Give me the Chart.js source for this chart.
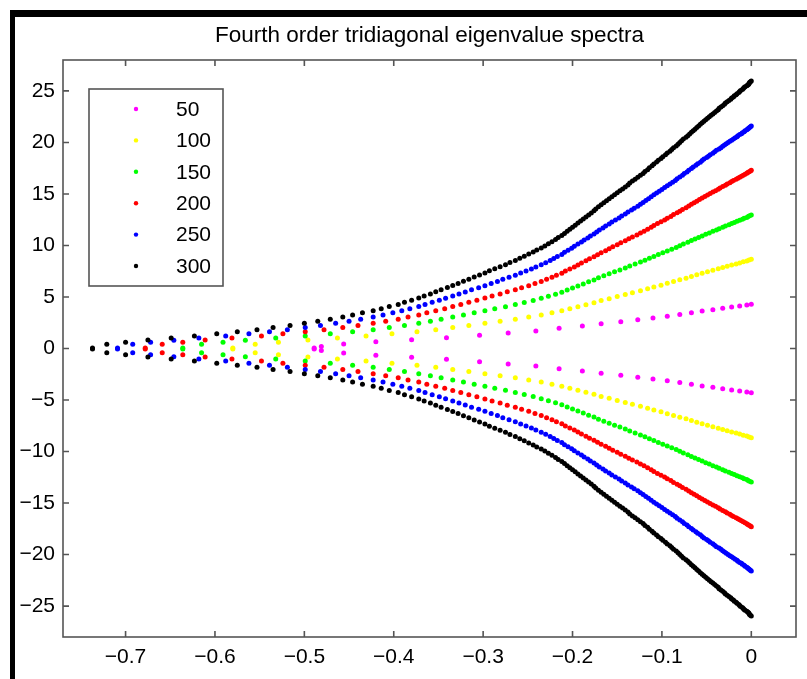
<!DOCTYPE html>
<html lang="pt-BR">
<head>
<meta charset="utf-8">
<title>Espectros de autovalores</title>
<script src="https://cdn.jsdelivr.net/npm/chart.js@4.4.1/dist/chart.umd.min.js"></script>
<style>
    html, body { margin: 0; padding: 0; background: #fff; }
    #grafico-container { position: relative; width: 807px; height: 679px; }
</style>
</head>
<body>
<div id="grafico-container"><canvas id="graficoEspectros"></canvas></div>
<script>
// Título e rótulos das séries (ordem da matriz)
const tituloGrafico = 'Fourth order tridiagonal eigenvalue spectra';
const rotulosSeries = ['50', '100', '150', '200', '250', '300'];
const coresSeries = ['#ff00ff', '#ffff00', '#00ff00', '#ff0000', '#0000ff', '#000000'];

// Valores dos ticks
const ticksX = [-0.7, -0.6, -0.5, -0.4, -0.3, -0.2, -0.1, 0];
const ticksY = [-25, -20, -15, -10, -5, 0, 5, 10, 15, 20, 25];

// Autovalores do semiplano superior (parte real / parte imaginária) para cada ordem
const real50 = [-0.489, -0.481, -0.456, -0.42, -0.38, -0.341, -0.304, -0.272, -0.241, -0.215, -0.189, -0.168, -0.146, -0.127, -0.11, -0.094, -0.08, -0.067, -0.055, -0.043, -0.032, -0.022, -0.013, -0.005, 0];
const imag50 = [0.05, 0.2, 0.44, 0.65, 0.86, 1.05, 1.28, 1.5, 1.7, 1.97, 2.18, 2.39, 2.6, 2.79, 2.97, 3.14, 3.31, 3.48, 3.63, 3.77, 3.91, 4.03, 4.13, 4.22, 4.3];

const real100 = [-0.58, -0.555, -0.529, -0.496, -0.463, -0.431, -0.402, -0.374, -0.353, -0.334,
    -0.316, -0.298, -0.281, -0.264, -0.249, -0.235, -0.223, -0.212, -0.203, -0.194,
    -0.185, -0.176, -0.168, -0.159, -0.15, -0.141, -0.133, -0.124, -0.116, -0.109,
    -0.101, -0.094, -0.087, -0.08, -0.073, -0.067, -0.061, -0.055, -0.049, -0.043,
    -0.037, -0.032, -0.027, -0.022, -0.017, -0.013, -0.009, -0.005, -0.0025, 0];
const imag100 = [0.05, 0.41, 0.61, 0.82, 1.02, 1.22, 1.43, 1.63, 1.83, 2.04,
    2.24, 2.44, 2.65, 2.85, 3.05, 3.25, 3.46, 3.66, 3.86, 4.06,
    4.25, 4.45, 4.65, 4.84, 5.04, 5.23, 5.42, 5.6, 5.79, 5.97,
    6.15, 6.33, 6.5, 6.67, 6.83, 6.99, 7.15, 7.3, 7.45, 7.59,
    7.73, 7.86, 7.98, 8.1, 8.21, 8.31, 8.41, 8.5, 8.58, 8.65];

const real150 = [-0.636, -0.615, -0.591, -0.566, -0.532, -0.499, -0.471, -0.446, -0.423, -0.405,
    -0.388, -0.372, -0.359, -0.347, -0.334, -0.322, -0.31, -0.298, -0.287, -0.275,
    -0.264, -0.254, -0.244, -0.235, -0.227, -0.219, -0.212, -0.206, -0.2, -0.194,
    -0.188, -0.182, -0.176, -0.171, -0.165, -0.159, -0.153, -0.147, -0.141, -0.136,
    -0.13, -0.124, -0.119, -0.114, -0.109, -0.104, -0.099, -0.094, -0.089, -0.084,
    -0.08, -0.076, -0.071, -0.067, -0.063, -0.059, -0.055, -0.051, -0.047, -0.043,
    -0.039, -0.036, -0.032, -0.029, -0.025, -0.022, -0.019, -0.016, -0.013, -0.01,
    -0.008, -0.005, -0.0035, -0.002, 0];
const imag150 = [0.05, 0.41, 0.61, 0.81, 1.02, 1.22, 1.42, 1.63, 1.83, 2.03,
    2.24, 2.44, 2.64, 2.85, 3.05, 3.25, 3.46, 3.66, 3.86, 4.06,
    4.27, 4.47, 4.67, 4.87, 5.07, 5.27, 5.47, 5.67, 5.87, 6.07,
    6.27, 6.47, 6.66, 6.86, 7.06, 7.25, 7.44, 7.63, 7.82, 8.01,
    8.2, 8.39, 8.57, 8.76, 8.94, 9.12, 9.29, 9.47, 9.64, 9.81,
    9.98, 10.15, 10.31, 10.47, 10.63, 10.78, 10.93, 11.08, 11.22, 11.37,
    11.5, 11.63, 11.76, 11.89, 12.01, 12.13, 12.24, 12.34, 12.45, 12.54,
    12.63, 12.72, 12.8, 12.88, 12.95];

const real200 = [-0.678, -0.659, -0.636, -0.611, -0.581, -0.548, -0.524, -0.499, -0.478, -0.457,
    -0.44, -0.423, -0.409, -0.395, -0.384, -0.372, -0.363, -0.353, -0.343, -0.334,
    -0.325, -0.316, -0.307, -0.298, -0.29, -0.281, -0.273, -0.264, -0.257, -0.249,
    -0.242, -0.235, -0.229, -0.223, -0.218, -0.212, -0.208, -0.203, -0.198, -0.194,
    -0.19, -0.185, -0.181, -0.176, -0.172, -0.168, -0.163, -0.159, -0.155, -0.15,
    -0.146, -0.141, -0.137, -0.133, -0.128, -0.124, -0.12, -0.116, -0.112, -0.109,
    -0.105, -0.101, -0.097, -0.094, -0.09, -0.087, -0.083, -0.08, -0.077, -0.073,
    -0.07, -0.067, -0.064, -0.061, -0.058, -0.055, -0.052, -0.049, -0.046, -0.043,
    -0.04, -0.037, -0.035, -0.032, -0.029, -0.027, -0.024, -0.022, -0.02, -0.017,
    -0.015, -0.013, -0.011, -0.009, -0.007, -0.005, -0.004, -0.0025, -0.001, 0];
const imag200 = [0.05, 0.41, 0.61, 0.82, 1.02, 1.22, 1.43, 1.63, 1.83, 2.04,
    2.24, 2.45, 2.65, 2.85, 3.06, 3.26, 3.46, 3.67, 3.87, 4.07,
    4.28, 4.48, 4.69, 4.89, 5.09, 5.29, 5.5, 5.7, 5.9, 6.1,
    6.31, 6.51, 6.71, 6.91, 7.11, 7.31, 7.51, 7.71, 7.91, 8.11,
    8.31, 8.51, 8.71, 8.9, 9.1, 9.3, 9.49, 9.68, 9.88, 10.07,
    10.26, 10.45, 10.64, 10.83, 11.02, 11.21, 11.39, 11.58, 11.76, 11.94,
    12.12, 12.3, 12.47, 12.65, 12.82, 13.0, 13.17, 13.33, 13.5, 13.67,
    13.83, 13.99, 14.14, 14.3, 14.45, 14.61, 14.75, 14.9, 15.04, 15.18,
    15.32, 15.45, 15.58, 15.72, 15.84, 15.96, 16.08, 16.2, 16.31, 16.42,
    16.52, 16.63, 16.72, 16.82, 16.91, 17.0, 17.08, 17.16, 17.23, 17.3];

const real250 = [-0.709, -0.692, -0.672, -0.646, -0.618, -0.588, -0.562, -0.539, -0.519, -0.499,
    -0.482, -0.465, -0.45, -0.437, -0.423, -0.412, -0.401, -0.391, -0.382, -0.372,
    -0.365, -0.357, -0.349, -0.342, -0.334, -0.327, -0.32, -0.313, -0.305, -0.298,
    -0.291, -0.284, -0.278, -0.271, -0.264, -0.258, -0.252, -0.246, -0.241, -0.235,
    -0.23, -0.225, -0.221, -0.217, -0.212, -0.209, -0.205, -0.201, -0.198, -0.194,
    -0.19, -0.187, -0.183, -0.18, -0.176, -0.173, -0.17, -0.166, -0.163, -0.159,
    -0.156, -0.152, -0.148, -0.145, -0.141, -0.138, -0.134, -0.131, -0.127, -0.124,
    -0.121, -0.118, -0.115, -0.112, -0.109, -0.106, -0.103, -0.1, -0.097, -0.094,
    -0.091, -0.088, -0.085, -0.083, -0.08, -0.077, -0.075, -0.072, -0.07, -0.067,
    -0.065, -0.062, -0.06, -0.057, -0.055, -0.053, -0.05, -0.048, -0.046, -0.043,
    -0.041, -0.039, -0.036, -0.034, -0.032, -0.03, -0.028, -0.026, -0.024, -0.022,
    -0.02, -0.018, -0.016, -0.015, -0.013, -0.011, -0.01, -0.008, -0.007, -0.005,
    -0.004, -0.003, -0.002, -0.001, 0];
const imag250 = [0.05, 0.41, 0.61, 0.81, 1.02, 1.22, 1.43, 1.63, 1.83, 2.04,
    2.24, 2.44, 2.65, 2.85, 3.05, 3.26, 3.46, 3.66, 3.87, 4.07,
    4.27, 4.48, 4.68, 4.88, 5.09, 5.29, 5.49, 5.7, 5.9, 6.1,
    6.31, 6.51, 6.71, 6.91, 7.12, 7.32, 7.52, 7.72, 7.92, 8.13,
    8.33, 8.53, 8.73, 8.93, 9.13, 9.33, 9.53, 9.73, 9.93, 10.13,
    10.33, 10.53, 10.72, 10.92, 11.12, 11.31, 11.51, 11.7, 11.9, 12.09,
    12.28, 12.48, 12.67, 12.86, 13.05, 13.24, 13.43, 13.62, 13.8, 13.99,
    14.18, 14.36, 14.54, 14.73, 14.91, 15.09, 15.27, 15.44, 15.62, 15.8,
    15.97, 16.14, 16.31, 16.48, 16.65, 16.81, 16.98, 17.14, 17.3, 17.46,
    17.62, 17.78, 17.93, 18.08, 18.24, 18.38, 18.53, 18.67, 18.81, 18.96,
    19.09, 19.23, 19.36, 19.49, 19.62, 19.75, 19.87, 19.99, 20.11, 20.22,
    20.33, 20.45, 20.55, 20.66, 20.76, 20.85, 20.95, 21.04, 21.13, 21.22,
    21.3, 21.38, 21.46, 21.53, 21.6];

const real300 = [-0.737, -0.721, -0.7, -0.675, -0.649, -0.623, -0.598, -0.575, -0.553, -0.535,
    -0.516, -0.5, -0.485, -0.471, -0.457, -0.446, -0.435, -0.423, -0.414, -0.405,
    -0.395, -0.388, -0.38, -0.372, -0.366, -0.359, -0.353, -0.347, -0.34, -0.334,
    -0.328, -0.322, -0.316, -0.31, -0.304, -0.298, -0.293, -0.287, -0.281, -0.275,
    -0.27, -0.264, -0.259, -0.254, -0.249, -0.244, -0.24, -0.235, -0.231, -0.227,
    -0.223, -0.219, -0.216, -0.212, -0.209, -0.206, -0.203, -0.2, -0.197, -0.194,
    -0.191, -0.188, -0.185, -0.182, -0.179, -0.176, -0.174, -0.171, -0.168, -0.165,
    -0.162, -0.159, -0.156, -0.153, -0.15, -0.147, -0.144, -0.141, -0.138, -0.136,
    -0.133, -0.13, -0.127, -0.124, -0.121, -0.119, -0.116, -0.114, -0.111, -0.109,
    -0.106, -0.104, -0.101, -0.099, -0.096, -0.094, -0.091, -0.089, -0.087, -0.084,
    -0.082, -0.08, -0.078, -0.076, -0.073, -0.071, -0.069, -0.067, -0.065, -0.063,
    -0.061, -0.059, -0.057, -0.055, -0.053, -0.051, -0.049, -0.047, -0.045, -0.043,
    -0.041, -0.039, -0.037, -0.036, -0.034, -0.032, -0.03, -0.029, -0.027, -0.025,
    -0.023, -0.022, -0.02, -0.019, -0.017, -0.016, -0.014, -0.013, -0.012, -0.01,
    -0.009, -0.008, -0.007, -0.005, -0.004, -0.003, -0.0025, -0.002, -0.001, 0];
const imag300 = [0.05, 0.41, 0.61, 0.82, 1.02, 1.22, 1.43, 1.63, 1.83, 2.04,
    2.24, 2.45, 2.65, 2.85, 3.06, 3.26, 3.46, 3.67, 3.87, 4.08,
    4.28, 4.48, 4.69, 4.89, 5.09, 5.3, 5.5, 5.71, 5.91, 6.11,
    6.32, 6.52, 6.72, 6.93, 7.13, 7.33, 7.54, 7.74, 7.94, 8.14,
    8.35, 8.55, 8.75, 8.95, 9.16, 9.36, 9.56, 9.76, 9.96, 10.17,
    10.37, 10.57, 10.77, 10.97, 11.17, 11.37, 11.57, 11.77, 11.97, 12.17,
    12.37, 12.56, 12.76, 12.96, 13.16, 13.36, 13.55, 13.75, 13.94, 14.14,
    14.33, 14.53, 14.72, 14.91, 15.11, 15.3, 15.49, 15.68, 15.87, 16.06,
    16.25, 16.43, 16.62, 16.81, 16.99, 17.18, 17.36, 17.55, 17.73, 17.91,
    18.09, 18.27, 18.45, 18.62, 18.8, 18.98, 19.15, 19.32, 19.49, 19.66,
    19.83, 20.0, 20.17, 20.33, 20.5, 20.66, 20.82, 20.98, 21.14, 21.29,
    21.45, 21.6, 21.76, 21.91, 22.05, 22.2, 22.35, 22.49, 22.63, 22.77,
    22.91, 23.05, 23.18, 23.31, 23.44, 23.57, 23.7, 23.82, 23.94, 24.06,
    24.18, 24.3, 24.41, 24.52, 24.63, 24.73, 24.84, 24.94, 25.04, 25.13,
    25.23, 25.32, 25.4, 25.49, 25.57, 25.65, 25.73, 25.81, 25.88, 25.95];

const partesReais = [real50, real100, real150, real200, real250, real300];
const partesImag = [imag50, imag100, imag150, imag200, imag250, imag300];

const fonteBase = '"Liberation Sans", Arial, Helvetica, sans-serif';
let graficoEspectrosInstance = null;

/**
 * @description Monta os pontos de uma série: os autovalores vêm em pares conjugados,
 * então cada parte imaginária aparece com os dois sinais.
 */
function montarPontos(reais, imags) {
    const superiores = reais.map((x, i) => ({ x: x, y: imags[i] }));
    const inferiores = reais.map((x, i) => ({ x: x, y: -imags[i] }));
    return superiores.concat(inferiores);
}

/**
 * @description Formata o rótulo do tick com o sinal de menos tipográfico.
 */
function formatarTick(valor) {
    return valor < 0 ? '\u2212' + String(Math.abs(valor)) : String(valor);
}

// Moldura preta da figura e título centralizado sobre a área dos eixos
const pluginMoldura = {
    id: 'moldura',
    beforeDraw(chart) {
        const { ctx, chartArea } = chart;
        ctx.save();
        ctx.fillStyle = '#fff';
        ctx.fillRect(0, 0, chart.width, chart.height);
        ctx.fillStyle = '#000';
        ctx.fillRect(10, 10, 5, chart.height - 10);
        ctx.fillRect(10, 10, chart.width - 10, 7);
        ctx.font = '22.5px ' + fonteBase;
        ctx.textAlign = 'center';
        ctx.textBaseline = 'middle';
        ctx.fillText(tituloGrafico, (chartArea.left + chartArea.right) / 2, 36);
        ctx.restore();
    }
};

// Legenda em caixa dentro da área dos eixos (canto superior esquerdo)
const pluginLegenda = {
    id: 'legendaCaixa',
    afterDatasetsDraw(chart) {
        const { ctx, chartArea } = chart;
        const x0 = chartArea.left + 26;
        const y0 = chartArea.top + 29;
        ctx.save();
        ctx.fillStyle = '#fff';
        ctx.fillRect(x0, y0, 134, 197);
        ctx.strokeStyle = '#555';
        ctx.lineWidth = 1.6;
        ctx.strokeRect(x0, y0, 134, 197);
        ctx.font = '21px ' + fonteBase;
        ctx.textAlign = 'left';
        ctx.textBaseline = 'middle';
        chart.data.datasets.forEach((ds, i) => {
            const cy = y0 + 20 + i * 31.4;
            ctx.fillStyle = ds.backgroundColor;
            ctx.beginPath();
            ctx.arc(x0 + 47, cy, 2.2, 0, Math.PI * 2);
            ctx.fill();
            ctx.fillStyle = '#000';
            ctx.fillText(ds.label, x0 + 87, cy + 1);
        });
        ctx.restore();
    }
};

// Caixa dos eixos com ticks voltados para dentro nos quatro lados
const pluginCaixaEixos = {
    id: 'caixaEixos',
    afterDraw(chart) {
        const { ctx, chartArea: a, scales } = chart;
        const tam = 6;
        ctx.save();
        ctx.strokeStyle = '#555';
        ctx.lineWidth = 1.6;
        ctx.strokeRect(a.left, a.top, a.right - a.left, a.bottom - a.top);
        ctx.beginPath();
        scales.x.ticks.forEach(t => {
            const px = scales.x.getPixelForValue(t.value);
            ctx.moveTo(px, a.bottom);
            ctx.lineTo(px, a.bottom - tam);
            ctx.moveTo(px, a.top);
            ctx.lineTo(px, a.top + tam);
        });
        scales.y.ticks.forEach(t => {
            const py = scales.y.getPixelForValue(t.value);
            ctx.moveTo(a.left, py);
            ctx.lineTo(a.left + tam, py);
            ctx.moveTo(a.right, py);
            ctx.lineTo(a.right - tam, py);
        });
        ctx.stroke();
        ctx.restore();
    }
};

function renderizarGraficoEspectros() {
    Chart.defaults.font.family = fonteBase;
    const ctx = document.getElementById('graficoEspectros').getContext('2d');
    if (graficoEspectrosInstance) {
        graficoEspectrosInstance.destroy();
    }

    const datasets = rotulosSeries.map((rotulo, i) => ({
        label: rotulo,
        data: montarPontos(partesReais[i], partesImag[i]),
        backgroundColor: coresSeries[i],
        borderColor: coresSeries[i],
        pointRadius: 2.5,
        pointBorderWidth: 0,
        pointHoverRadius: 2.5,
        showLine: false,
        order: rotulosSeries.length - i // a série de 300 fica por cima
    }));

    graficoEspectrosInstance = new Chart(ctx, {
        type: 'scatter',
        data: { datasets: datasets },
        options: {
            responsive: true,
            maintainAspectRatio: false,
            animation: false,
            layout: { padding: { top: 60, right: 11, bottom: 0, left: 0 } },
            scales: {
                x: {
                    type: 'linear',
                    min: -0.77,
                    max: 0.05,
                    afterBuildTicks: (scale) => { scale.ticks = ticksX.map(v => ({ value: v })); },
                    afterFit: (scale) => { scale.height = 42; },
                    grid: { display: false, drawTicks: false },
                    border: { display: false },
                    ticks: {
                        padding: 8,
                        color: '#000',
                        font: { size: 21 },
                        maxRotation: 0,
                        autoSkip: false,
                        callback: formatarTick
                    }
                },
                y: {
                    type: 'linear',
                    min: -28,
                    max: 28,
                    afterBuildTicks: (scale) => { scale.ticks = ticksY.map(v => ({ value: v })); },
                    afterFit: (scale) => { scale.width = 63; },
                    grid: { display: false, drawTicks: false },
                    border: { display: false },
                    ticks: {
                        padding: 8,
                        color: '#000',
                        font: { size: 21 },
                        autoSkip: false,
                        callback: formatarTick
                    }
                }
            },
            plugins: {
                legend: { display: false },
                title: { display: false },
                tooltip: { enabled: false }
            }
        },
        plugins: [pluginMoldura, pluginLegenda, pluginCaixaEixos]
    });
}

renderizarGraficoEspectros();
</script>
</body>
</html>
